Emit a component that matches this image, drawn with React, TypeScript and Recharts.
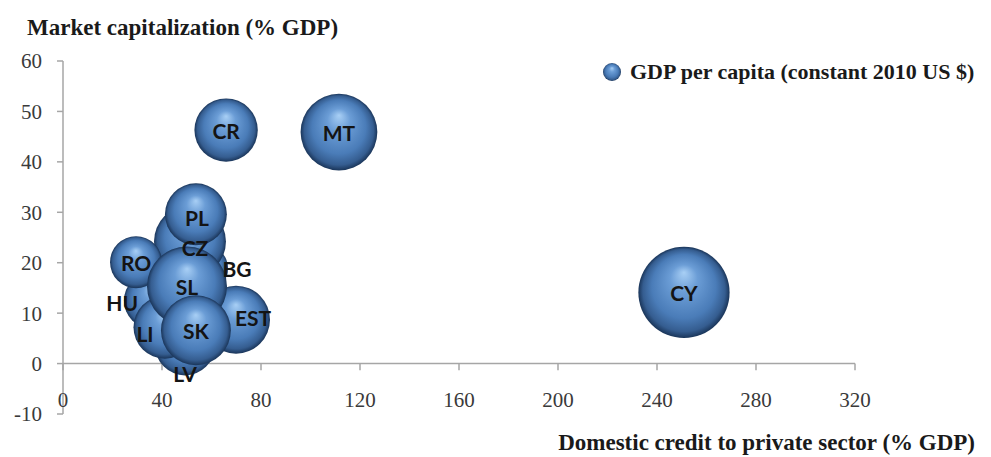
import React from 'react';
import { ScatterChart, Scatter, XAxis, YAxis, ZAxis, ReferenceLine } from 'recharts';

const countries = ['LV', 'HU', 'LI', 'EST', 'BG', 'CZ', 'PL', 'RO', 'SL', 'SK', 'CR', 'MT', 'CY'];
const domesticCredit = [49.3, 36.0, 41.2, 69.9, 57.4, 51.3, 53.7, 29.5, 50.1, 53.7, 65.9, 111.5, 250.9];
const marketCap = [3.6, 12.5, 7.2, 8.7, 18.9, 24.2, 29.6, 20.1, 15.3, 6.6, 46.3, 45.9, 14.1];
const gdpPerCapita = [13600, 12000, 15000, 17500, 8000, 19600, 14500, 10200, 24200, 18500, 15200, 22300, 31500];

const xTicks = [0, 40, 80, 120, 160, 200, 240, 280, 320];
const yTicks = [-10, 0, 10, 20, 30, 40, 50, 60];

const yTitle = 'Market capitalization (% GDP)';
const xTitle = 'Domestic credit to private sector (% GDP)';
const seriesName = 'GDP per capita (constant 2010 US $)';

const data = countries.map((name, i) => ({
  name,
  credit: domesticCredit[i],
  cap: marketCap[i],
  gdp: gdpPerCapita[i],
}));

// label placement nudges (pixels), styling only
const labelNudge: Record<string, [number, number]> = {
  HU: [-30, 2],
  LI: [-20, 6],
  LV: [0, 28],
  EST: [17, -2],
  BG: [32, 0],
  CZ: [5, 6],
  PL: [1, 3],
};

const serif = '"Liberation Serif", "Times New Roman", serif';
const sans = 'Lato, "Open Sans", sans-serif';

const Sphere = (props: any) => {
  const { cx, cy, size, width } = props;
  if (cx == null || cy == null) return <g />;
  const r = size ? Math.sqrt(size / Math.PI) : (width || 0) / 2;
  return <circle cx={cx} cy={cy} r={r} fill="url(#sphereGrad)" />;
};

const BubbleLabel = (props: any) => {
  const { cx, cy, payload } = props;
  if (cx == null || cy == null) return <g />;
  const [dx, dy] = labelNudge[payload.name] || [0, 0];
  return (
    <text
      x={cx + dx}
      y={cy + dy}
      textAnchor="middle"
      dominantBaseline="central"
      fontFamily={sans}
      fontWeight={700}
      fontSize={21}
      fill="#141414"
    >
      {payload.name}
    </text>
  );
};

const XTick = (props: any) => {
  const { x, y, payload } = props;
  return (
    <text x={x} y={y - 7} textAnchor="middle" fontFamily={serif} fontSize={21} fill="#3a3a3a">
      {payload.value}
    </text>
  );
};

export default function App() {
  return (
    <div style={{ position: 'absolute', left: 0, top: 0, width: 991, height: 457, background: '#fff' }}>
      <svg width={0} height={0} style={{ position: 'absolute' }}>
        <defs>
          <radialGradient id="sphereGrad" cx="50%" cy="50%" r="50%" fx="50%" fy="28%">
            <stop offset="0%" stopColor="#a8cff5" />
            <stop offset="30%" stopColor="#6b9dd6" />
            <stop offset="70%" stopColor="#4a7cb8" />
            <stop offset="90%" stopColor="#355d90" />
            <stop offset="100%" stopColor="#1a3559" />
          </radialGradient>
        </defs>
      </svg>
      <ScatterChart width={991} height={457} margin={{ top: 61, right: 136, bottom: 13, left: 13 }}>
        <XAxis
          type="number"
          dataKey="credit"
          domain={[0, 320]}
          ticks={xTicks}
          axisLine={false}
          tickLine={false}
          tickSize={0}
          tickMargin={0}
          height={30}
          tick={<XTick />}
          interval={0}
        />
        <YAxis
          type="number"
          dataKey="cap"
          domain={[-10, 60]}
          ticks={yTicks}
          width={50}
          axisLine={{ stroke: '#a6a6a6', strokeWidth: 1.5 }}
          tickLine={{ stroke: '#a6a6a6', strokeWidth: 1.5 }}
          tickSize={6}
          tickMargin={15}
          tick={{ fontFamily: serif, fontSize: 21, fill: '#3a3a3a' }}
          interval={0}
        />
        <ZAxis type="number" dataKey="gdp" domain={[0, 35000]} range={[0, 7262]} />
        <ReferenceLine y={0} stroke="#a6a6a6" strokeWidth={1.5} />
        {xTicks.map((t) => (
          <ReferenceLine
            key={t}
            segment={[{ x: t, y: 0 }, { x: t, y: -1.3 }]}
            stroke="#a6a6a6"
            strokeWidth={1.5}
          />
        ))}
        <Scatter name={seriesName} data={data} shape={<Sphere />} isAnimationActive={false} />
        <Scatter data={data} shape={<BubbleLabel />} isAnimationActive={false} legendType="none" />
      </ScatterChart>

      <div
        style={{
          position: 'absolute', left: 27, top: 15, fontFamily: serif, fontWeight: 700,
          fontSize: 23, lineHeight: '26px', color: '#1a1a1a', whiteSpace: 'nowrap',
        }}
      >
        {yTitle}
      </div>
      <div
        style={{
          position: 'absolute', right: 16, top: 430, fontFamily: serif, fontWeight: 700,
          fontSize: 23, lineHeight: '26px', color: '#1a1a1a', whiteSpace: 'nowrap',
        }}
      >
        {xTitle}
      </div>
      <div style={{ position: 'absolute', left: 602, top: 59, display: 'flex', alignItems: 'center', whiteSpace: 'nowrap' }}>
        <svg width={20} height={26}>
          <circle cx={10} cy={13} r={9} fill="url(#sphereGrad)" />
        </svg>
        <span style={{ marginLeft: 8, fontFamily: serif, fontWeight: 700, fontSize: 22, lineHeight: '26px', color: '#1a1a1a' }}>
          {seriesName}
        </span>
      </div>
    </div>
  );
}
